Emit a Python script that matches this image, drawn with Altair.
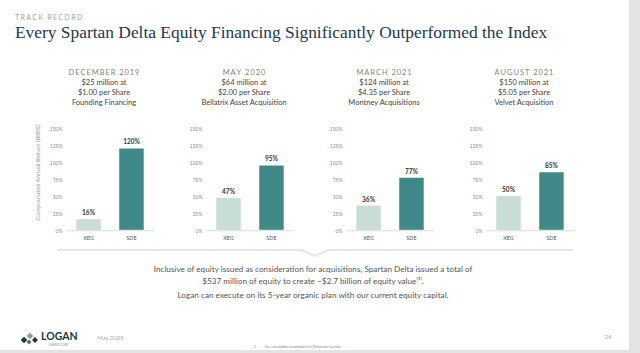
import altair as alt
import pandas as pd

# ---------------- data ----------------
periods = ["DECEMBER 2019", "MAY 2020", "MARCH 2021", "AUGUST 2021"]
amounts = ["$25 million at", "$64 million at", "$124 million at", "$150 million at"]
prices = ["$1.00 per Share", "$2.00 per Share", "$4.35 per Share", "$5.05 per Share"]
purposes = ["Founding Financing", "Bellatrix Asset Acquisition", "Montney Acquisitions", "Velvet Acquisition"]
tickers = ["XEG", "SDE"]
xeg_irr = [16, 47, 36, 50]
sde_irr = [120, 95, 77, 85]
y_ticks = [0, 25, 50, 75, 100, 125, 150]

kicker = "TRACK RECORD"
headline = "Every Spartan Delta Equity Financing Significantly Outperformed the Index"
y_title = "Compounded Annual Return (IRR%)"
body_lines = [
    "Inclusive of equity issued as consideration for acquisitions, Spartan Delta issued a total of",
    "$537 million of equity to create ~$2.7 billion of equity value\u207d\u00b9\u207e.",
    "Logan can execute on its 5-year organic plan with our current equity capital.",
]
footer_date = "May 2025"
page_no = "24"
footnote_no = "1."
footnote = "See calculation assumptions in Disclaimer section."
logo_name = "LOGAN"
logo_sub = "ENERGY CORP."

# ---------------- style ----------------
W, H = 88, 102
OX, OY = 66, 128          # page position of first panel's plot origin
FONT = "Lato"
SERIF = "Liberation Serif"
LIGHT = "#c9ddd7"
TEAL = "#3f8989"


def ax(x):
    return x - OX


def ay(y):
    return y - OY


def spaced(s, sep="\u2009"):
    return sep.join(s)


def txt(value, x, y, **kw):
    d = pd.DataFrame({"t": [value]})
    return alt.Chart(d).mark_text(**kw).encode(
        x=alt.value(x), y=alt.value(y), text="t:N")


def rule(x, y, x2, y2, color="#e6e6e6", sw=2):
    d = pd.DataFrame({"k": [0]})
    return alt.Chart(d).mark_rule(color=color, strokeWidth=sw).encode(
        x=alt.value(x), y=alt.value(y), x2=alt.value(x2), y2=alt.value(y2))


def rect(x, y, x2, y2, color):
    d = pd.DataFrame({"k": [0]})
    return alt.Chart(d).mark_rect(color=color).encode(
        x=alt.value(x), y=alt.value(y), x2=alt.value(x2), y2=alt.value(y2))


def panel(i):
    df = pd.DataFrame({"ticker": tickers, "irr": [xeg_irr[i], sde_irr[i]]})
    df["label"] = df["irr"].astype(str) + "%"

    yaxis_kw = dict(values=y_ticks, labelExpr="datum.value + '%'", grid=False, ticks=False,
                    domain=False, labelFontSize=5, labelColor="#8a8a8a", labelPadding=4,
                    labelFont=FONT, zindex=1)
    if i == 0:
        yaxis = alt.Axis(title=y_title, titleFontSize=6.2, titleColor="#9a9a9a",
                         titleFontWeight="normal", titleFont=FONT, titlePadding=9,
                         titleY=44, **yaxis_kw)
    else:
        yaxis = alt.Axis(title=None, **yaxis_kw)

    x = alt.X("ticker:N", sort=tickers,
              scale=alt.Scale(paddingInner=0.43, paddingOuter=0.24),
              axis=alt.Axis(title=None, labelAngle=0, ticks=False, domainColor="#e4e4e4",
                            domainWidth=1.5, labelFontSize=5.5, labelColor="#555555",
                            labelPadding=5, labelFont=FONT, zindex=1))
    y = alt.Y("irr:Q", scale=alt.Scale(domain=[0, 150]), axis=yaxis)

    base = alt.Chart(df)
    bars = base.mark_bar().encode(
        x=x, y=y,
        color=alt.Color("ticker:N", scale=alt.Scale(domain=tickers, range=[LIGHT, TEAL]),
                        legend=None))
    labels = base.mark_text(dy=-6, fontSize=6.5, fontWeight="bold", color="#333333",
                            font=FONT).encode(x=x, y=y, text="label:N")

    hx = W / 2 - 6
    head = [
        txt(spaced(periods[i]), hx, -55, fontSize=7.5, color="#8c8474", font=FONT),
        txt(amounts[i], hx, -45, fontSize=7.5, color="#444444", font=FONT),
        txt(prices[i], hx, -35, fontSize=7.5, color="#444444", font=FONT),
        txt(purposes[i], hx, -25, fontSize=7.5, color="#444444", font=FONT),
    ]

    layers = []
    if i == 0:
        layers += [
            rect(ax(0), ay(0), ax(640), ay(353), "#e3e3e3"),
            rect(ax(0), ay(0), ax(629), ay(350), "#ffffff"),
            txt(spaced(kicker, "\u2009\u200a"), ax(15), ay(18), fontSize=7, color="#9aa5ab",
                font=FONT, align="left"),
            txt(headline, ax(15), ay(33), fontSize=17.4, color="#1e3a4c", font=SERIF,
                align="left"),
            # divider with notch
            rule(ax(57), ay(250), ax(302), ay(250)),
            rule(ax(328), ay(250), ax(573), ay(250)),
            rule(ax(302), ay(250), ax(315), ay(256)),
            rule(ax(315), ay(256), ax(328), ay(250)),
            txt(body_lines[0], ax(313), ay(270), fontSize=8.2, color="#555555", font=FONT),
            txt(body_lines[1], ax(313), ay(282), fontSize=8.2, color="#555555", font=FONT),
            txt(body_lines[2], ax(313), ay(296), fontSize=8.2, color="#555555", font=FONT),
            txt(footer_date, ax(97), ay(338), fontSize=6, color="#aaaaaa", font=FONT,
                align="left"),
            txt(page_no, ax(608), ay(337), fontSize=6, color="#aaaaaa", font=FONT),
            txt(footnote_no, ax(254), ay(347), fontSize=3.5, color="#888888", font=FONT,
                align="left"),
            txt(footnote, ax(265), ay(347), fontSize=3.5, color="#888888", font=FONT,
                align="left"),
            txt(logo_name, ax(41), ay(337), fontSize=10.5, fontWeight="bold", color="#1f3345",
                font=FONT, align="left"),
            txt(logo_sub, ax(59), ay(344.5), fontSize=2.8, color="#8a9a8a", font=FONT),
        ]
        for (px, py, c, s) in [(24, 340, "#1f3345", 45), (30, 336, "#8aa08c", 45),
                               (35, 340, "#1f3345", 35), (29, 342, "#56705e", 25)]:
            d = pd.DataFrame({"k": [0]})
            layers.append(alt.Chart(d).mark_point(shape="diamond", filled=True, color=c,
                                                  size=s, opacity=1).encode(
                x=alt.value(ax(px)), y=alt.value(ay(py))))
    layers += [bars, labels] + head
    return alt.layer(*layers).properties(width=W, height=H)


chart = alt.hconcat(*[panel(i) for i in range(4)], spacing=52, bounds="flush").properties(
    padding=0, background="#e3e3e3"
).configure_view(strokeWidth=0)

chart.save("out.html", embed_options={"renderer": "svg", "actions": False})
